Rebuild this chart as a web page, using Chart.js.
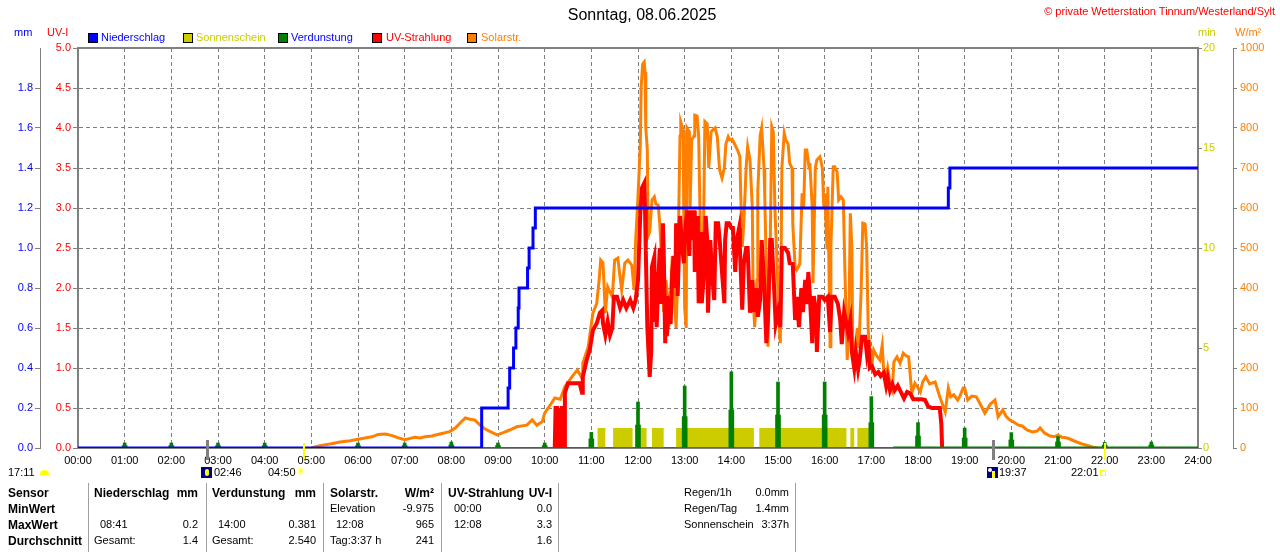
<!DOCTYPE html>
<html><head><meta charset="utf-8">
<script src="https://cdn.jsdelivr.net/npm/chart.js@4.4.0/dist/chart.umd.min.js"></script>
<style>
html,body{margin:0;padding:0;background:#fff;}
#wrap{position:relative;width:1280px;height:552px;overflow:hidden;font-family:"Liberation Sans",Arial,sans-serif;font-size:11px;color:#000;}
canvas{position:absolute;left:0;top:0;}
.t{position:absolute;white-space:nowrap;line-height:13px;font-size:11px;}
.b{font-weight:bold;font-size:12px;line-height:14px;}
.sq{position:absolute;width:8px;height:8px;border:1px solid #000;top:33px;}
.vl{position:absolute;width:1px;background:#a0a0a0;top:483px;height:69px;}
.r{text-align:right;}
</style></head>
<body><div id="wrap">
<canvas id="c" width="1280" height="552"></canvas>

<div class="t" style="left:442px;width:400px;text-align:center;top:6px;font-size:16px;line-height:18px;">Sonntag, 08.06.2025</div>
<div class="t" style="right:5px;top:5px;color:#ff0000;">© private Wetterstation Tinnum/Westerland/Sylt</div>

<div class="t" style="left:14px;top:26px;color:#0000ff;">mm</div>
<div class="t" style="left:47px;top:26px;color:#ff0000;">UV-I</div>
<div class="t" style="left:1198px;top:26px;color:#cccc00;">min</div>
<div class="t" style="left:1235px;top:26px;color:#ff8000;">W/m²</div>

<div class="sq" style="left:88px;background:#0000ff;"></div>
<div class="t" style="left:101px;top:31px;color:#0000ff;">Niederschlag</div>
<div class="sq" style="left:183px;background:#cccc00;"></div>
<div class="t" style="left:196px;top:31px;color:#cccc00;">Sonnenschein</div>
<div class="sq" style="left:278px;background:#008000;"></div>
<div class="t" style="left:291px;top:31px;color:#0000ff;">Verdunstung</div>
<div class="sq" style="left:372px;background:#ff0000;"></div>
<div class="t" style="left:386px;top:31px;color:#ff0000;">UV-Strahlung</div>
<div class="sq" style="left:467px;background:#ff8000;"></div>
<div class="t" style="left:481px;top:31px;color:#ff8000;">Solarstr.</div>

<!-- sun / moon row -->
<div class="t" style="left:8px;top:466px;">17:11</div>
<div style="position:absolute;left:40px;top:470px;width:9px;height:5px;background:#ffff00;border-radius:5px 5px 0 0;"></div>
<div style="position:absolute;left:201px;top:467px;width:11px;height:11px;background:#000080;"><div style="position:absolute;left:4px;top:2px;width:4px;height:7px;background:#ffff00;border-radius:2px;"></div></div>
<div class="t" style="left:214px;top:466px;">02:46</div>
<div class="t" style="left:268px;top:466px;">04:50</div>
<div class="t" style="left:296px;top:465px;color:#ffff00;font-family:'DejaVu Sans';font-size:11px;">☀</div>
<div style="position:absolute;left:987px;top:467px;width:11px;height:11px;background:#000080;"><div style="position:absolute;left:1px;top:1px;width:4px;height:4px;background:#ffffff;border-radius:2px;"></div><div style="position:absolute;left:5px;top:4px;width:3px;height:7px;background:#ffff00;"></div></div>
<div class="t" style="left:999px;top:466px;">19:37</div>
<div class="t" style="left:1071px;top:466px;">22:01</div>
<div style="position:absolute;left:1100px;top:470px;width:4px;height:4px;border:1px solid #ffff00;"></div>

<!-- table -->
<div class="vl" style="left:88px;"></div>
<div class="vl" style="left:206px;"></div>
<div class="vl" style="left:323px;"></div>
<div class="vl" style="left:441px;"></div>
<div class="vl" style="left:558px;"></div>
<div class="vl" style="left:795px;"></div>

<div class="t b" style="left:8px;top:486px;">Sensor</div>
<div class="t b" style="left:8px;top:502px;">MinWert</div>
<div class="t b" style="left:8px;top:518px;">MaxWert</div>
<div class="t b" style="left:8px;top:534px;">Durchschnitt</div>

<div class="t b" style="left:94px;top:486px;">Niederschlag</div>
<div class="t b r" style="right:1082px;top:486px;">mm</div>
<div class="t" style="left:100px;top:518px;">08:41</div>
<div class="t r" style="right:1082px;top:518px;">0.2</div>
<div class="t" style="left:94px;top:534px;">Gesamt:</div>
<div class="t r" style="right:1082px;top:534px;">1.4</div>

<div class="t b" style="left:212px;top:486px;">Verdunstung</div>
<div class="t b r" style="right:964px;top:486px;">mm</div>
<div class="t" style="left:218px;top:518px;">14:00</div>
<div class="t r" style="right:964px;top:518px;">0.381</div>
<div class="t" style="left:212px;top:534px;">Gesamt:</div>
<div class="t r" style="right:964px;top:534px;">2.540</div>

<div class="t b" style="left:330px;top:486px;">Solarstr.</div>
<div class="t b r" style="right:846px;top:486px;">W/m²</div>
<div class="t" style="left:330px;top:502px;">Elevation</div>
<div class="t r" style="right:846px;top:502px;">-9.975</div>
<div class="t" style="left:336px;top:518px;">12:08</div>
<div class="t r" style="right:846px;top:518px;">965</div>
<div class="t" style="left:330px;top:534px;">Tag:3:37 h</div>
<div class="t r" style="right:846px;top:534px;">241</div>

<div class="t b" style="left:448px;top:486px;">UV-Strahlung</div>
<div class="t b r" style="right:728px;top:486px;">UV-I</div>
<div class="t" style="left:454px;top:502px;">00:00</div>
<div class="t r" style="right:728px;top:502px;">0.0</div>
<div class="t" style="left:454px;top:518px;">12:08</div>
<div class="t r" style="right:728px;top:518px;">3.3</div>
<div class="t r" style="right:728px;top:534px;">1.6</div>

<div class="t" style="left:684px;top:486px;">Regen/1h</div>
<div class="t r" style="right:491px;top:486px;">0.0mm</div>
<div class="t" style="left:684px;top:502px;">Regen/Tag</div>
<div class="t r" style="right:491px;top:502px;">1.4mm</div>
<div class="t" style="left:684px;top:518px;">Sonnenschein</div>
<div class="t r" style="right:491px;top:518px;">3:37h</div>
</div>

<script>
// ---------- data (time in minutes since 00:00) ----------
const hourLabels = ['00:00','01:00','02:00','03:00','04:00','05:00','06:00','07:00','08:00','09:00','10:00','11:00','12:00',
  '13:00','14:00','15:00','16:00','17:00','18:00','19:00','20:00','21:00','22:00','23:00','24:00'];
const mmTickLabels = ['0.0','0.2','0.4','0.6','0.8','1.0','1.2','1.4','1.6','1.8',''];
const uvTickLabels = ['0.0','0.5','1.0','1.5','2.0','2.5','3.0','3.5','4.0','4.5','5.0'];
const minTickLabels = ['0','5','10','15','20'];
const wTickLabels = ['0','100','200','300','400','500','600','700','800','900','1000'];

// cumulative precipitation [minute, mm]
const precipitation = [[0,0],[519,0.2],[553,0.3],[555,0.4],[560,0.5],[563,0.6],[566,0.7],[567,0.8],[578,0.9],[580,1.0],
  [585,1.1],[588,1.2],[1119,1.3],[1121,1.4],[1440,1.4]];

// evaporation per hour [minute, peak mm, lower part mm]
const evapHours    = [60,120,180,240,360,420,480,540,600,660,720,780,840,900,960,1020,1080,1140,1200,1260,1320,1380];
const evapPeak     = [0.025,0.025,0.025,0.025,0.025,0.025,0.03,0.025,0.025,0.078,0.23,0.31,0.381,0.33,0.33,0.257,0.127,0.10,0.077,0.057,0.028,0.03];
const evapLower    = [0.012,0.012,0.012,0.012,0.012,0.012,0.015,0.012,0.012,0.045,0.115,0.157,0.19,0.165,0.165,0.127,0.06,0.05,0.04,0.03,0.014,0.015];

// sunshine periods (1 min of sun per minute)
const sunStart = [668,688,723,738,769,876,993,1002];
const sunEnd   = [678,713,731,753,869,988,998,1018];

// UV index [minute, UV-I]
const uvIndex = [[611,0],[613,0],[614,0.5],[616,0.5],[617,0],[621,0],[622,0.5],[624,0.5],[625,0],[626,0.69],[630,0.81],[638,0.81],
 [645,0.81],[648,0.69],[649,0.89],[654,1.1],[658,1.23],[662,1.47],[667,1.56],[671,1.69],[674,1.72],[675,1.56],[678,1.41],
 [681,1.58],[684,1.41],[687,1.5],[689,1.89],[693,1.89],[697,1.75],[701,1.85],[705,1.75],[710,1.85],[714,1.75],[717,1.85],
 [720,2.1],[723,2.95],[725,3.25],[728,3.31],[729,3.0],[730,2.47],[732,1.51],[734,1.1],[735,0.89],[737,1.2],[738,2.27],
 [741,2.39],[742,1.6],[743,2.2],[744,1.51],[746,2.06],[748,2.5],[750,1.8],[752,2.81],[753,2.5],[755,1.31],[756,1.9],[757,1.4],
 [760,1.7],[762,1.55],[764,2.2],[766,2.4],[768,2.0],[769,2.81],[771,1.9],[774,2.9],[777,2.5],[779,2.31],[780,2.6],[783,2.97],
 [786,2.4],[787,2.97],[789,2.6],[792,2.97],[793,2.2],[796,2.9],[797,2.5],[798,1.81],[801,2.7],[802,1.81],[805,2.2],[807,2.9],
 [809,2.6],[810,1.69],[813,2.6],[815,2.2],[818,1.85],[820,2.81],[823,2.81],[825,2.6],[828,2.2],[831,1.81],[832,2.6],[834,2.81],
 [837,2.81],[840,2.75],[842,2.75],[845,2.2],[847,2.6],[850,2.75],[851,2.5],[854,1.73],[856,2.3],[859,2.5],[861,2.5],[864,1.69],
 [867,2.1],[869,1.7],[872,2.0],[874,1.64],[877,1.85],[879,2.6],[882,2.1],[885,1.31],[887,1.6],[890,2.6],[892,2.6],[895,2.0],
 [897,1.55],[900,1.7],[903,1.51],[905,2.5],[909,2.5],[913,2.44],[915,2.31],[919,2.3],[922,1.6],[924,1.89],[927,1.51],[930,2.0],
 [932,1.7],[935,2.1],[937,1.8],[939,2.2],[941,1.9],[944,1.31],[946,1.9],[949,1.7],[950,1.2],[953,1.89],[957,1.89],[960,1.85],
 [964,1.89],[967,1.45],[969,1.89],[973,1.89],[977,1.8],[980,1.6],[982,1.3],[985,1.7],[987,1.6],[990,1.44],[993,1.6],[995,1.2],
 [998,1.0],[1000,1.2],[1003,0.98],[1005,1.1],[1008,1.39],[1012,1.39],[1014,1.2],[1016,1.35],[1018,1.0],[1021,1.02],[1025,0.92],
 [1029,0.95],[1032,0.9],[1036,0.94],[1039,0.78],[1041,0.88],[1044,0.72],[1047,0.8],[1050,0.72],[1054,0.78],[1058,0.7],
 [1062,0.62],[1066,0.7],[1070,0.68],[1074,0.61],[1080,0.61],[1085,0.61],[1089,0.6],[1093,0.52],[1098,0.5],[1103,0.5],
 [1108,0.5],[1110,0.3],[1111,0]];

// solar radiation [minute, W/m²]
const solarRadiation = [[300,0],[311,6],[324,10],[337,15],[350,18],[360,22],[369,25],[378,28],[386,34],[395,35],[404,31],
 [411,26],[420,21],[427,24],[433,27],[440,25],[446,28],[455,30],[465,35],[478,41],[485,50],[491,62],[498,75],[504,72],
 [510,70],[517,57],[523,48],[530,41],[539,33],[546,38],[555,45],[564,53],[577,57],[584,70],[590,57],[597,66],[600,87],
 [607,107],[613,125],[620,122],[626,153],[635,178],[642,195],[648,175],[649,212],[656,253],[662,337],[667,362],[670,420],
 [672,470],[675,463],[678,337],[681,403],[687,378],[690,470],[694,475],[699,395],[703,462],[707,470],[712,457],[715,395],
 [717,520],[720,628],[723,760],[724,900],[726,960],[728,965],[729,940],[730,800],[732,745],[733,530],[735,540],[738,620],
 [741,628],[743,610],[746,607],[748,560],[751,450],[753,340],[756,420],[759,360],[761,337],[764,480],[766,400],[769,300],
 [771,420],[774,780],[775,815],[778,795],[779,550],[780,350],[782,300],[783,800],[786,790],[787,600],[789,770],[792,780],
 [793,832],[796,830],[798,780],[800,560],[801,362],[804,500],[806,816],[809,810],[811,700],[814,790],[816,795],[819,800],
 [822,778],[824,720],[825,695],[828,675],[831,700],[833,760],[836,778],[838,770],[841,772],[843,765],[846,753],[849,740],
 [851,728],[852,640],[854,503],[856,560],[859,700],[861,753],[864,720],[867,600],[868,380],[870,302],[873,420],[874,640],
 [877,780],[879,800],[882,700],[883,628],[886,350],[887,253],[890,500],[892,803],[894,790],[896,600],[899,453],[901,320],
 [903,262],[905,700],[908,787],[910,770],[913,760],[915,712],[918,700],[919,560],[922,453],[924,445],[928,460],[931,637],
 [933,600],[935,745],[937,745],[940,700],[941,712],[944,600],[945,412],[948,700],[950,720],[954,728],[957,700],[959,600],
 [960,637],[963,500],[964,653],[967,253],[968,500],[971,703],[973,703],[976,690],[978,620],[981,628],[984,620],[986,445],
 [989,220],[991,300],[993,587],[995,500],[996,260],[999,245],[1002,300],[1004,250],[1007,400],[1009,562],[1012,560],
 [1014,500],[1016,295],[1018,250],[1021,212],[1023,245],[1027,230],[1031,220],[1034,257],[1036,190],[1039,178],[1041,200],
 [1044,162],[1047,145],[1049,215],[1053,228],[1057,212],[1061,237],[1065,230],[1068,228],[1072,137],[1076,162],[1080,150],
 [1083,140],[1086,165],[1090,178],[1095,160],[1102,165],[1108,128],[1115,90],[1119,150],[1122,128],[1126,133],[1131,120],
 [1134,130],[1138,150],[1140,150],[1144,120],[1149,130],[1155,128],[1160,110],[1166,87],[1173,110],[1179,120],[1183,78],
 [1189,95],[1193,80],[1198,70],[1203,65],[1209,57],[1214,55],[1220,45],[1227,40],[1233,42],[1237,50],[1243,37],[1250,30],
 [1255,28],[1260,32],[1265,27],[1272,25],[1278,20],[1284,15],[1291,10],[1297,7],[1305,2],[1311,0]];

// evaporation baseline segments (thin until 17:28, thicker after)
const evapBaseThin  = [[520,0],[1048,0]];
const evapBaseThick = [[1048,0],[1440,0.004]];

// moon / sun event markers
const moonTimes = [166, 1177];
const sunTimes  = [290, 1321];

// ---------- build ----------
const pts = a => a.map(p => ({x:p[0], y:p[1]}));
const sunPts = [{x:0,y:0}];
sunStart.forEach((s,i) => { sunPts.push({x:s,y:1}); sunPts.push({x:sunEnd[i],y:0}); });
sunPts.push({x:1440,y:0});
const evapPeakPts  = evapHours.map((h,i) => ({x:h, y:evapPeak[i]}));
const evapLowerPts = evapHours.map((h,i) => ({x:h, y:evapLower[i]}));

Chart.defaults.font.family = '"Liberation Sans", Arial, sans-serif';
Chart.defaults.font.size = 11;
Chart.defaults.color = '#000';

const GRID = '#808080';
const frame = {
  id:'frame',
  beforeDatasetsDraw(chart){
    const {ctx, chartArea:a} = chart;
    ctx.save();
    ctx.strokeStyle = GRID; ctx.lineWidth = 2;
    ctx.beginPath(); ctx.moveTo(a.left-1, a.top); ctx.lineTo(a.right+1, a.top); ctx.stroke();
    ctx.restore();
  },
  afterDatasetsDraw(chart){
    const {ctx, chartArea:a, scales:{x}} = chart;
    ctx.save();
    moonTimes.forEach(t => {
      const px = Math.round(x.getPixelForValue(t)) + 0.5;
      ctx.strokeStyle = '#808080'; ctx.lineWidth = 3;
      ctx.beginPath(); ctx.moveTo(px, a.bottom-8); ctx.lineTo(px, a.bottom+12); ctx.stroke();
    });
    sunTimes.forEach(t => {
      const px = Math.round(x.getPixelForValue(t));
      ctx.strokeStyle = '#ffff00'; ctx.lineWidth = 2;
      ctx.beginPath(); ctx.moveTo(px, a.bottom-5); ctx.lineTo(px, a.bottom+11); ctx.stroke();
    });
    ctx.restore();
  }
};

const lineBase = {type:'line', pointRadius:0, pointHoverRadius:0, tension:0, fill:false};

new Chart(document.getElementById('c'), {
  type:'line',
  data:{ datasets:[
    Object.assign({}, lineBase, {label:'Niederschlag', data:pts(precipitation), yAxisID:'yMM', borderColor:'#0000ff', borderWidth:3, stepped:true, order:1}),
    {type:'bar', label:'Verdunstung', data:evapPeakPts, yAxisID:'yMM', backgroundColor:'#008000', borderWidth:0, barThickness:3, grouped:false, order:2},
    {type:'bar', label:'Verdunstung2', data:evapLowerPts, yAxisID:'yMM', backgroundColor:'#008000', borderWidth:0, barThickness:5, grouped:false, order:2},
    Object.assign({}, lineBase, {label:'vb1', data:pts(evapBaseThin), yAxisID:'yMM', borderColor:'#008000', borderWidth:1.5, order:2}),
    Object.assign({}, lineBase, {label:'vb2', data:pts(evapBaseThick), yAxisID:'yMM', borderColor:'#008000', borderWidth:3, stepped:true, order:2}),
    Object.assign({}, lineBase, {label:'UV-Strahlung', data:pts(uvIndex), yAxisID:'yUV', borderColor:'#ff0000', borderWidth:4, order:3}),
    Object.assign({}, lineBase, {label:'Solarstr.', data:pts(solarRadiation), yAxisID:'yW', borderColor:'#ff8000', borderWidth:3, order:4}),
    Object.assign({}, lineBase, {label:'Sonnenschein', data:sunPts, yAxisID:'yMin', stepped:true, fill:'origin', backgroundColor:'#cccc00', borderColor:'rgba(0,0,0,0)', borderWidth:0, order:5})
  ]},
  options:{
    responsive:false, animation:false, devicePixelRatio:1, events:[],
    layout:{padding:{top:48, bottom:84, left:0, right:0}},
    plugins:{legend:{display:false}, tooltip:{enabled:false}},
    scales:{
      x:{type:'linear', position:'bottom', min:0, max:1440, offset:false,
        afterFit:s=>{s.height=20;},
        grid:{display:true, offset:false, drawOnChartArea:true, drawTicks:false, color:GRID, lineWidth:1},
        border:{display:true, color:GRID, width:2, dash:[4,3]},
        ticks:{stepSize:60, autoSkip:false, maxRotation:0, padding:6, color:'#000', callback:(v)=>hourLabels[Math.round(v/60)]}},
      yMM:{type:'linear', position:'left', weight:1, min:0, max:2,
        afterFit:s=>{s.width=40;},
        grid:{display:true, drawOnChartArea:false, drawTicks:true, tickLength:5, tickColor:c=>c.index===10?'rgba(0,0,0,0)':GRID},
        border:{display:true, color:GRID, width:1},
        ticks:{stepSize:0.2, padding:2, color:'#0000ff', callback:(v,i)=>mmTickLabels[i]}},
      yUV:{type:'linear', position:'left', weight:0, min:0, max:5,
        afterFit:s=>{s.width=38;},
        grid:{display:true, drawOnChartArea:true, drawTicks:true, tickLength:5, color:GRID, tickColor:GRID, tickBorderDash:[]},
        border:{display:true, color:GRID, width:2, dash:[4,3]},
        ticks:{stepSize:0.5, padding:2, color:'#ff0000', callback:(v,i)=>uvTickLabels[i]}},
      yMin:{type:'linear', position:'right', weight:0, min:0, max:20,
        afterFit:s=>{s.width=35;},
        grid:{display:true, drawOnChartArea:false, drawTicks:true, tickLength:4, tickColor:GRID},
        border:{display:true, color:GRID, width:2},
        ticks:{stepSize:5, padding:1, color:'#cccc00', callback:(v,i)=>minTickLabels[i]}},
      yW:{type:'linear', position:'right', weight:1, min:0, max:1000,
        afterFit:s=>{s.width=47;},
        grid:{display:true, drawOnChartArea:false, drawTicks:true, tickLength:4, tickColor:GRID},
        border:{display:true, color:GRID, width:1},
        ticks:{stepSize:100, padding:3, color:'#ff8000', callback:(v,i)=>wTickLabels[i]}}
    }
  },
  plugins:[frame]
});
</script>
</body></html>
